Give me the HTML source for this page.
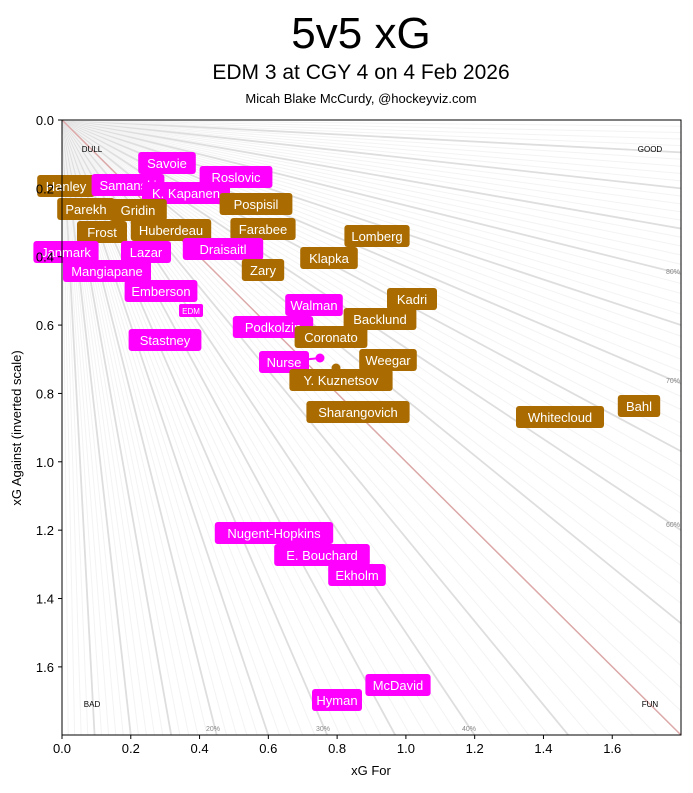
<!DOCTYPE html><html><head><meta charset="utf-8"><style>body{margin:0;background:#fff}svg text{font-family:"Liberation Sans","DejaVu Sans",sans-serif}</style></head><body>
<svg width="693" height="788" xmlns="http://www.w3.org/2000/svg">
<text x="361" y="48" font-size="44" text-anchor="middle">5v5 xG</text>
<text x="361" y="79" font-size="21" text-anchor="middle">EDM 3 at CGY 4 on 4 Feb 2026</text>
<text x="361" y="103" font-size="13" text-anchor="middle">Micah Blake McCurdy, @hockeyviz.com</text>
<defs><clipPath id="c"><rect x="62" y="120" width="619" height="615"/></clipPath></defs>
<g clip-path="url(#c)" id="rays"></g>
<line x1="62" y1="120" x2="681" y2="735" stroke="#dca8a8" stroke-width="1.5" clip-path="url(#c)"/>
<g font-size="7" fill="#888"><text x="666" y="274">80%</text><text x="666" y="383">70%</text><text x="666" y="527">60%</text><text x="206" y="731">20%</text><text x="316" y="731">30%</text><text x="462" y="731">40%</text></g>
<g font-size="8" text-anchor="middle"><text x="92" y="152">DULL</text><text x="650" y="152">GOOD</text><text x="92" y="707">BAD</text><text x="650" y="707">FUN</text></g>
<g id="labels"></g>
<rect x="62" y="120" width="619" height="615" fill="none" stroke="#000" stroke-width="1"/>
<g id="ticks" font-size="13"></g>
<text x="371" y="775" font-size="13" text-anchor="middle">xG For</text>
<text transform="translate(21,428) rotate(-90)" font-size="13" text-anchor="middle">xG Against (inverted scale)</text>
</svg>
<script>
var ns="http://www.w3.org/2000/svg";
function el(t,a,p,txt){var e=document.createElementNS(ns,t);for(var k in a)e.setAttribute(k,a[k]);if(txt!=null)e.textContent=txt;p.appendChild(e);return e;}
var ox=62,oy=120,sx=343.9,sy=341.8;
var rays=document.getElementById('rays');
for(var i=1;i<100;i++){if(i==50)continue;var p=i/100;var r=(1-p)/p;var X=2,Y=X*r;if(Y>2){Y=2;X=Y/r;}var ten=(i%5==0);
el('line',{x1:ox,y1:oy,x2:ox+X*sx,y2:oy+Y*sy,stroke:ten?'#dedede':'#f3f3f3','stroke-width':ten?1.8:1},rays);}
var t=document.getElementById('ticks');
for(var i=0;i<=8;i++){var v=(i*0.2).toFixed(1);var x=ox+i*0.2*sx;el('line',{x1:x,y1:735,x2:x,y2:739,stroke:'#000'},t);el('text',{x:x,y:753,'text-anchor':'middle'},t,v);
var y=oy+i*0.2*sy;el('line',{x1:58,y1:y,x2:62,y2:y,stroke:'#000'},t);el('text',{x:54,y:y+5,'text-anchor':'end'},t,v);}
var M='#ff00ff',B='#aa6c00';
var L=document.getElementById('labels');
el('line',{x1:292,y1:361,x2:320,y2:358,stroke:M,'stroke-width':2},L);
el('circle',{cx:320,cy:358,r:4.5,fill:M},L);el('circle',{cx:336,cy:368,r:4.5,fill:B},L);
el('line',{x1:220,y1:248,x2:258,y2:266,stroke:B,'stroke-width':2.5},L);
el('circle',{cx:186,cy:239,r:4.5,fill:M},L);el('circle',{cx:220,cy:248,r:4.5,fill:B},L);
var labs=[
['Hanley',66,186,B],['Samanski',128,185,M],['Savoie',167,163,M],['Roslovic',236,177,M],['K. Kapanen',186,193,M],
['Parekh',86,209,B],['Gridin',138,210,B],['Pospisil',256,204,B],['Frost',102,232,B],['Huberdeau',171,230,B],['Farabee',263,229,B],
['Janmark',66,252,M],['Lazar',146,252,M],['Draisaitl',223,249,M],['Zary',263,270,B],['Klapka',329,258,B],['Lomberg',377,236,B],
['Mangiapane',107,271,M],['Emberson',161,291,M],['Kadri',412,299,B],['Walman',314,305,M],['Backlund',380,319,B],['Podkolzin',273,327,M],
['Coronato',331,337,B],['Stastney',165,340,M],['Weegar',388,360,B],['Nurse',284,362,M],['Y. Kuznetsov',341,380,B],['Sharangovich',358,412,B],
['Bahl',639,406,B],['Whitecloud',560,417,B],['Nugent-Hopkins',274,533,M],['E. Bouchard',322,555,M],['Ekholm',357,575,M],['McDavid',398,685,M],['Hyman',337,700,M]];
labs.forEach(function(a){var w=a[0].length*7.6+12;el('rect',{x:a[1]-w/2,y:a[2]-11,width:w,height:22,rx:3,fill:a[3]},L);
el('text',{x:a[1],y:a[2]+5,'text-anchor':'middle','font-size':13,fill:'#fff'},L,a[0]);});
el('rect',{x:179,y:304,width:24,height:13,rx:2,fill:M},L);el('text',{x:191,y:314,'text-anchor':'middle','font-size':8,fill:'#fff'},L,'EDM');
</script>
</body></html>
